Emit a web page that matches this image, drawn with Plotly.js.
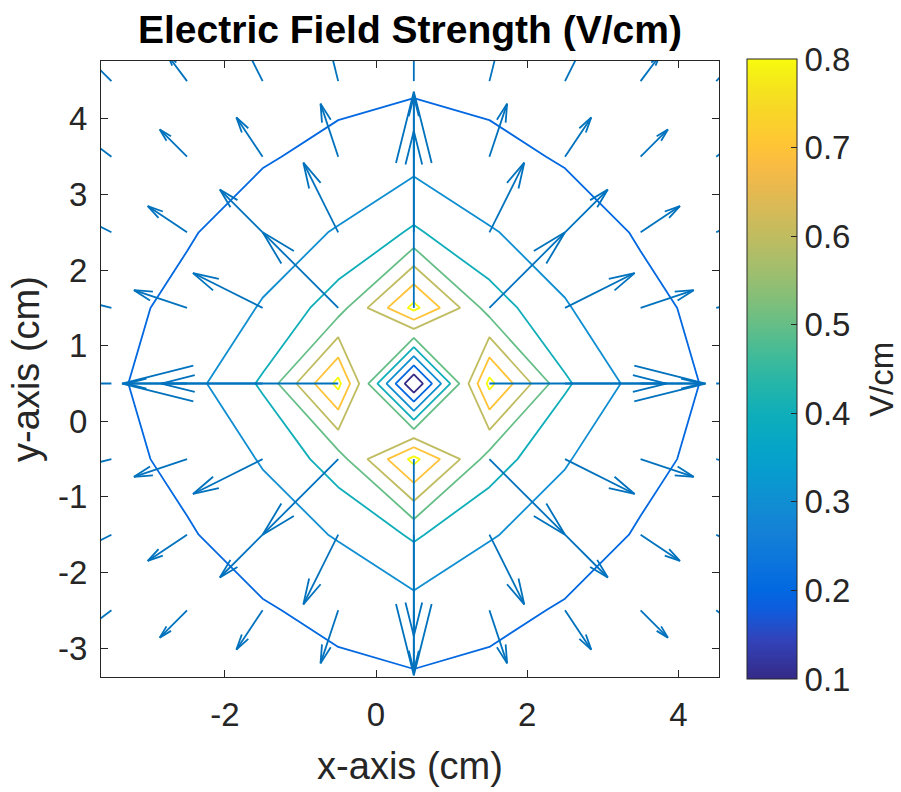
<!DOCTYPE html>
<html>
<head>
<meta charset="utf-8">
<script src="https://cdn.plot.ly/plotly-3.0.1.min.js"></script>
<style>
html,body{margin:0;padding:0;background:#fff;}
#chart{width:901px;height:792px;}
</style>
</head>
<body>
<div id="chart"></div>
<script>
// grid coordinates (cm)
const gridX = [-3.5, -2.5, -1.5, -0.5, 0.5, 1.5, 2.5, 3.5, 4.5];
const gridY = [-3.5, -2.5, -1.5, -0.5, 0.5, 1.5, 2.5, 3.5, 4.5];

// field strength (V/cm): rows follow gridY, columns follow gridX
const fieldStrength = [
  [0.115, 0.135, 0.150, 0.168, 0.183, 0.168, 0.150, 0.135, 0.115],
  [0.135, 0.160, 0.190, 0.230, 0.259, 0.230, 0.190, 0.160, 0.135],
  [0.150, 0.190, 0.255, 0.307, 0.415, 0.307, 0.255, 0.190, 0.150],
  [0.168, 0.230, 0.307, 0.455, 0.830, 0.455, 0.307, 0.230, 0.168],
  [0.183, 0.259, 0.415, 0.830, 0.000, 0.830, 0.415, 0.259, 0.183],
  [0.168, 0.230, 0.307, 0.455, 0.830, 0.455, 0.307, 0.230, 0.168],
  [0.150, 0.190, 0.255, 0.307, 0.415, 0.307, 0.255, 0.190, 0.150],
  [0.135, 0.160, 0.190, 0.230, 0.259, 0.230, 0.190, 0.160, 0.135],
  [0.115, 0.135, 0.150, 0.168, 0.183, 0.168, 0.150, 0.135, 0.115]
];

// quiver components (as drawn): rows follow gridY, columns follow gridX
const arrowU = [
  [-0.255, -0.252, -0.215, -0.129, 0, 0.129, 0.215, 0.252, 0.255],
  [-0.336, -0.361, -0.347, -0.234, 0, 0.234, 0.347, 0.361, 0.336],
  [-0.429, -0.520, -0.566, -0.461, 0, 0.461, 0.566, 0.520, 0.429],
  [-0.514, -0.702, -0.921, -1.000, 0, 1.000, 0.921, 0.702, 0.514],
  [-0.550, -0.800, -1.340, -2.860, 0, 2.860, 1.340, 0.800, 0.550],
  [-0.514, -0.702, -0.921, -1.000, 0, 1.000, 0.921, 0.702, 0.514],
  [-0.429, -0.520, -0.566, -0.461, 0, 0.461, 0.566, 0.520, 0.429],
  [-0.336, -0.361, -0.347, -0.234, 0, 0.234, 0.347, 0.361, 0.336],
  [-0.255, -0.252, -0.215, -0.129, 0, 0.129, 0.215, 0.252, 0.255]
];
const arrowV = [
  [-0.255, -0.336, -0.429, -0.514, -0.550, -0.514, -0.429, -0.336, -0.255],
  [-0.252, -0.361, -0.520, -0.702, -0.800, -0.702, -0.520, -0.361, -0.252],
  [-0.215, -0.347, -0.566, -0.921, -1.340, -0.921, -0.566, -0.347, -0.215],
  [-0.129, -0.234, -0.461, -1.000, -2.860, -1.000, -0.461, -0.234, -0.129],
  [0, 0, 0, 0, 0, 0, 0, 0, 0],
  [0.129, 0.234, 0.461, 1.000, 2.860, 1.000, 0.461, 0.234, 0.129],
  [0.215, 0.347, 0.566, 0.921, 1.340, 0.921, 0.566, 0.347, 0.215],
  [0.252, 0.361, 0.520, 0.702, 0.800, 0.702, 0.520, 0.361, 0.252],
  [0.255, 0.336, 0.429, 0.514, 0.550, 0.514, 0.429, 0.336, 0.255]
];

const contourLevels = [0.1, 0.2, 0.3, 0.4, 0.5, 0.6, 0.7, 0.8];
const xTicks = [-2, 0, 2, 4];
const xTickText = ['-2', '0', '2', '4'];
const yTicks = [-3, -2, -1, 0, 1, 2, 3, 4];
const yTickText = ['-3', '-2', '-1', '0', '1', '2', '3', '4'];

// parula colormap samples (position, [r,g,b] 0..1)
const parulaStops = [
  [0 / 63, [0.2081, 0.1663, 0.5292]],
  [4 / 63, [0.1959, 0.2645, 0.7279]],
  [7 / 63, [0.0591, 0.3598, 0.8683]],
  [9 / 63, [0.0060, 0.4086, 0.8828]],
  [12 / 63, [0.0498, 0.4586, 0.8641]],
  [15 / 63, [0.0779, 0.5040, 0.8384]],
  [18 / 63, [0.0641, 0.5570, 0.8240]],
  [21 / 63, [0.0265, 0.6137, 0.8135]],
  [24 / 63, [0.0228, 0.6535, 0.7768]],
  [27 / 63, [0.0590, 0.6838, 0.7254]],
  [30 / 63, [0.1453, 0.7098, 0.6646]],
  [33 / 63, [0.2586, 0.7317, 0.5954]],
  [36 / 63, [0.3953, 0.7459, 0.5244]],
  [39 / 63, [0.5300, 0.7491, 0.4661]],
  [42 / 63, [0.6473, 0.7456, 0.4188]],
  [45 / 63, [0.7525, 0.7384, 0.3768]],
  [48 / 63, [0.8507, 0.7299, 0.3360]],
  [50 / 63, [0.9139, 0.7258, 0.3063]],
  [52 / 63, [0.9739, 0.7314, 0.2666]],
  [54 / 63, [0.9990, 0.7653, 0.2164]],
  [56 / 63, [0.9880, 0.8066, 0.1794]],
  [58 / 63, [0.9697, 0.8481, 0.1475]],
  [60 / 63, [0.9589, 0.8949, 0.1132]],
  [62 / 63, [0.9661, 0.9514, 0.0755]],
  [63 / 63, [0.9763, 0.9831, 0.0538]]
];
const parula = parulaStops.map(s => [s[0], 'rgb(' + s[1].map(c => Math.round(c * 255)).join(',') + ')']);

const FONT = 'Liberation Sans, Arial, Helvetica, sans-serif';
const INK = '#262626';

// quiver line segments (shaft + head) built from the grid and components
const alpha = 0.33, beta = 0.25;
const qx = [], qy = [];
for (let i = 0; i < gridY.length; i++) {
  for (let j = 0; j < gridX.length; j++) {
    const x = gridX[j], y = gridY[i], u = arrowU[i][j], v = arrowV[i][j];
    if (u === 0 && v === 0) continue;
    const tx = x + u, ty = y + v;
    qx.push(x, tx, null);
    qy.push(y, ty, null);
    qx.push(tx - alpha * (u + beta * v), tx, tx - alpha * (u - beta * v), null);
    qy.push(ty - alpha * (v - beta * u), ty, ty - alpha * (v + beta * u), null);
  }
}

const lo = contourLevels[0], hi = contourLevels[contourLevels.length - 1];

const traces = [
  {
    type: 'contour',
    x: gridX, y: gridY, z: fieldStrength,
    colorscale: parula, zmin: lo, zmax: hi, zauto: false,
    autocontour: false,
    contours: {start: lo, end: hi + 1e-6, size: 0.1, coloring: 'lines', showlabels: false},
    line: {width: 1.8, smoothing: 0},
    showscale: false,
    hoverinfo: 'skip'
  },
  {
    type: 'scatter', mode: 'lines',
    x: qx, y: qy,
    line: {color: 'rgb(0,114,189)', width: 1.8},
    hoverinfo: 'skip', showlegend: false
  },
  {
    type: 'scatter', mode: 'markers',
    x: [gridX[0], gridX[0]], y: [gridY[0], gridY[0]],
    marker: {
      color: [lo, hi], colorscale: parula, cmin: lo, cmax: hi, opacity: 0, size: 1,
      showscale: true,
      colorbar: {
        x: (746.7 - 101) / 618, xanchor: 'left', xref: 'paper', xpad: 0,
        y: 0.5, yanchor: 'middle', yref: 'paper', ypad: 0,
        thickness: 49.5, thicknessmode: 'pixels',
        len: 620, lenmode: 'pixels',
        outlinewidth: 1, outlinecolor: INK,
        ticks: 'inside', ticklen: 6, tickcolor: INK, tickwidth: 1,
        ticklabelstandoff: 4,
        tickvals: contourLevels, ticktext: contourLevels.map(v => v.toFixed(1)),
        tickfont: {family: FONT, size: 33, color: INK}
      }
    },
    hoverinfo: 'skip', showlegend: false
  }
];

const axisCommon = {
  showgrid: false, zeroline: false,
  showline: true, linecolor: INK, linewidth: 1, mirror: 'ticks',
  ticks: 'inside', ticklen: 7, tickwidth: 1, tickcolor: INK,
  tickfont: {family: FONT, size: 33, color: INK}
};

const layout = {
  width: 901, height: 792,
  paper_bgcolor: '#fff', plot_bgcolor: '#fff',
  margin: {l: 101, r: 182, t: 61, b: 115, pad: 0},
  showlegend: false,
  title: {
    text: 'Electric Field Strength (V/cm)',
    font: {family: FONT, size: 39, color: '#000', weight: 700},
    x: 0.5, xref: 'paper', xanchor: 'center',
    y: 1 - 29 / 792, yref: 'container', yanchor: 'middle'
  },
  xaxis: Object.assign({}, axisCommon, {
    range: [-3.638, 4.537], tickvals: xTicks, ticktext: xTickText,
    ticklabelstandoff: 8,
    title: {text: 'x-axis (cm)', font: {family: FONT, size: 38, color: INK}, standoff: 20}
  }),
  yaxis: Object.assign({}, axisCommon, {
    range: [-3.382, 4.766], tickvals: yTicks, ticktext: yTickText,
    ticklabelstandoff: 6,
    title: {text: 'y-axis (cm)', font: {family: FONT, size: 38, color: INK}, standoff: 6}
  }),
  annotations: [{
    text: 'V/cm', textangle: -90, showarrow: false,
    xref: 'paper', yref: 'paper',
    x: (882 - 101) / 618, y: (677 - 380) / 616,
    xanchor: 'center', yanchor: 'middle',
    font: {family: FONT, size: 33, color: INK}
  }]
};

Plotly.newPlot('chart', traces, layout, {staticPlot: true, displayModeBar: false});
</script>
</body>
</html>
